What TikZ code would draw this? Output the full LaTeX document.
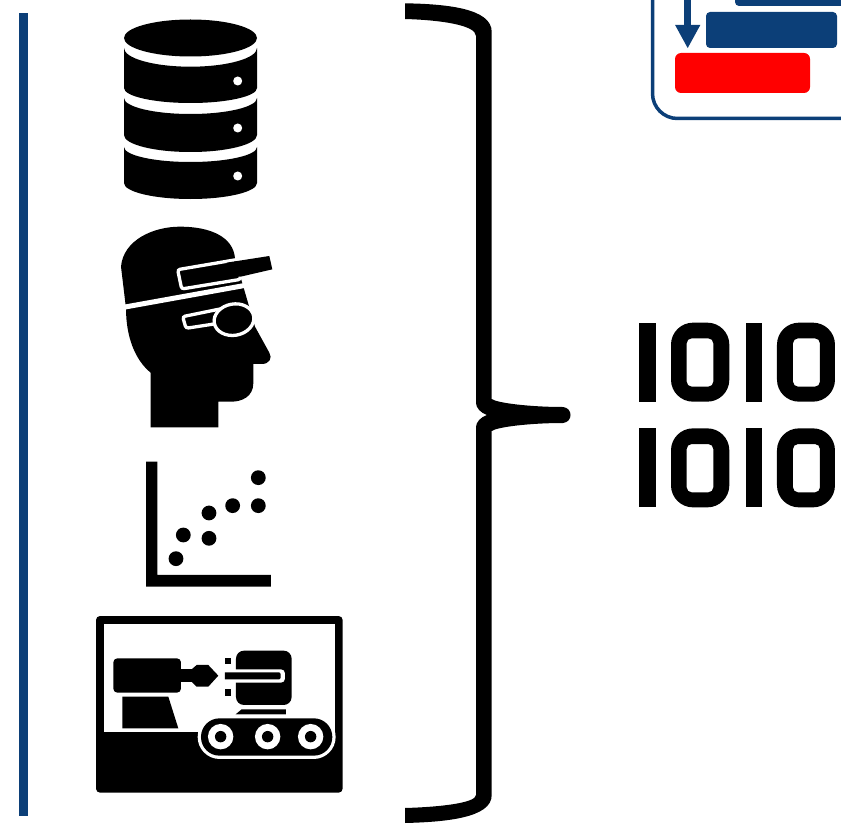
\documentclass[tikz,border=0pt]{standalone}
\usepackage{xcolor}
\usetikzlibrary{arrows.meta}
\definecolor{navy}{HTML}{0c3f78}
\definecolor{alarm}{HTML}{ff0000}
\newcommand{\dbLayer}[6]{\fill[black] (124,#1) arc[start angle=180, end angle=0, x radius=66.5, y radius=#2] -- (257,#3) arc[start angle=0, end angle=180, x radius=66.5, y radius=#4] -- cycle; \fill[white] (237.7,#5) circle (#6);}
\newcommand{\binRow}[1]{\begin{scope}[yshift=#1]
\fill[black] (27,38) rectangle (77,275); \fill[black] (347,38) rectangle (396,275);
\fill[black, even odd rule, rounded corners=22pt] (123,38) rectangle (298,275) [rounded corners=5pt] (170,85) rectangle (250,230);
\fill[black, even odd rule, rounded corners=22pt] (441,38) rectangle (615,275) [rounded corners=5pt] (489,85) rectangle (570,230);
\end{scope}}
\begin{document}
\begin{tikzpicture}[x=1pt, y=-1pt, inkfill/.style={fill=black}, cutline/.style={draw=white, line width=3.3pt, fill=black, rounded corners=2.5pt}, panelbox/.style={fill=navy, rounded corners=4pt}]
\useasboundingbox (0,0) rectangle (841,824);
\clip (0,0) rectangle (841,824);
\fill[navy] (19,13) rectangle (28,816);
\fill[black] (190.5,38) ellipse [x radius=66.5, y radius=18.5];
\dbLayer{48}{18.7}{88}{15}{81}{4.5pt}
\dbLayer{98}{16}{135}{17}{128}{4.5pt}
\dbLayer{147}{15}{183}{16}{176}{4.5pt}
\begin{scope}[shift={(110,220)}, x=0.3333pt, y=-0.3333pt]
\path[inkfill] (33,140) .. controls (40,60) and (130,20) .. (210,20) .. controls (300,20) and (370,50) .. (375,115) -- (400,200) -- (435,320) -- (478,398) .. controls (488,415) and (478,432) .. (455,432) -- (430,432) -- (430,490) .. controls (430,530) and (395,545) .. (365,545) -- (325,545) -- (325,622) -- (122,622) -- (122,458) .. controls (75,420) and (48,350) .. (48,265) -- cycle;
\draw[white, line width=5pt] (40,262) -- (412,195);
\path[cutline] (203,149) -- (385,118) -- (392,178) -- (215,207) -- cycle;
\fill[black] (350,128) -- (478,108) -- (487,148) -- (392,170) -- (355,170) -- cycle;
\path[cutline] (218,290) -- (335,266) -- (325,310) -- (228,325) -- cycle;
\path[cutline] (372,299) ellipse [x radius=60, y radius=47, rotate=10];
\end{scope}
\begin{scope}[shift={(140,455)}, x=0.3333pt, y=-0.3333pt]
\fill[black] (18,20) -- (52,20) -- (52,360) -- (393,360) -- (393,395) -- (18,395) -- cycle;
\foreach \px/\py in {108/311,130/240,207/250,207/174,278/152,355/152,355/68} {\fill[black] (\px,\py) circle (7.4pt);}
\end{scope}
\begin{scope}[shift={(90,610)}, x=0.3333pt, y=-0.3333pt]
\fill[black, rounded corners=4pt] (18,18) rectangle (758,548);
\fill[white] (43,42) rectangle (735,367);
\fill[black, rounded corners=4pt] (70,145) rectangle (273,248);
\fill[black] (265,178) rectangle (315,215);
\fill[black] (305,178) -- (320,165) -- (355,165) -- (385,197) -- (355,230) -- (320,230) -- (305,215) -- cycle;
\fill[black] (97,260) -- (235,260) -- (265,355) -- (97,355) -- cycle;
\fill[black, rounded corners=8pt] (438,122) rectangle (605,285);
\fill[white, rounded corners=4pt] (400,178) rectangle (585,218);
\fill[black] (405,187) -- (568,187) -- (572,192) -- (572,204) -- (568,208) -- (405,208) -- cycle;
\fill[black] (405,143) rectangle (423,163);
\fill[black] (405,237) rectangle (423,257);
\fill[black] (437,313) -- (455,298) -- (588,298) -- (588,313) -- cycle;
\fill[white, rounded corners=22pt] (323,315) rectangle (737,447);
\fill[black, rounded corners=18.5pt] (333,325) rectangle (727,437);
\foreach \wx in {392,533,662} {\fill[white] (\wx,380) circle (12.7pt); \fill[black] (\wx,380) circle (5.7pt);}
\end{scope}
\fill[black] (405,3.3) .. controls (445,4) and (492,8) .. (491.7,32) -- (491.7,399) .. controls (497,403) and (530,407) .. (563,407) .. controls (573,408) and (573,422) .. (563,423) .. controls (530,423) and (497,427) .. (491.7,431) -- (491.7,795) .. controls (492,818) and (445,822) .. (405,823) -- (405,808) .. controls (440,807) and (476,803) .. (476,795) -- (476,427) .. controls (476,422) and (481,417) .. (487,415) .. controls (481,413) and (476,408) .. (476,403) -- (476,36) .. controls (476,25) and (440,20) .. (405,19) -- cycle;
\begin{scope}[shift={(630,310)}, x=0.3333pt, y=-0.3333pt]
\binRow{0pt}
\binRow{-105.7pt}
\end{scope}
\draw[navy, line width=3.5pt, rounded corners=25pt] (652.5,-5) -- (652.5,118.5) -- (850,118.5);
\fill[panelbox] (735,-20) rectangle (850,6);
\fill[panelbox] (706,12) rectangle (837,48);
\fill[alarm, rounded corners=6pt] (675,53) rectangle (810,93);
\draw[navy, line width=7.5pt, -{Triangle[length=23.5pt, width=23.5pt]}] (687.7,-5) -- (687.7,48.5);
\end{tikzpicture}
\end{document}
